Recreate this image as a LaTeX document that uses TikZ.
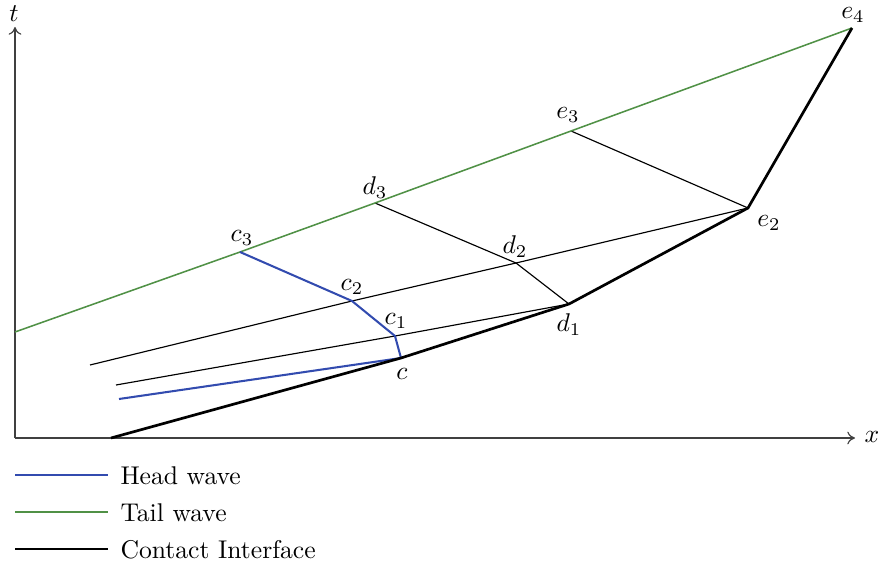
\documentclass[tikz,border=0pt]{standalone}
\usetikzlibrary{arrows.meta}
\definecolor{headblue}{RGB}{50,75,175}
\definecolor{tailgreen}{RGB}{80,145,70}
\begin{document}
\begin{tikzpicture}[x=0.39pt,y=-0.39pt,
  axis/.style={draw=black!75,line width=0.45pt,-{To[length=3pt,width=5pt]}},
  head/.style={draw=headblue,line width=0.8pt},
  tail/.style={draw=tailgreen,line width=0.6pt},
  contact/.style={draw=black,line width=1.05pt},
  charline/.style={draw=black,line width=0.45pt},
  lbl/.style={inner sep=0pt,font=\normalsize}]
\useasboundingbox (0,0) rectangle (878,569);
% points
\coordinate (O) at (15,438);
\coordinate (tend) at (15,27);
\coordinate (xend) at (855,438);
\coordinate (g0) at (15,332);
\coordinate (s0) at (111,438);
\coordinate (c) at (401,358);
\coordinate (c1) at (395,336);
\coordinate (c2) at (352,301);
\coordinate (c3) at (240,252);
\coordinate (d1) at (569,304);
\coordinate (d2) at (516,263);
\coordinate (d3) at (375,203);
\coordinate (e2) at (748,208);
\coordinate (e3) at (571,131);
\coordinate (e4) at (852,28);
\coordinate (h0) at (119,399);
\coordinate (l1) at (116,385);
\coordinate (l2) at (90,365);
% axes
\draw[axis] (O) -- (tend);
\draw[axis] (O) -- (xend);
\node[lbl] (tl) at (14,14) {$t$};
\node[lbl] (xl) at (872,437) {$x$};
% characteristic lines
\draw[charline] (l2) -- (c2) -- (d2) -- (e2);
\draw[charline] (l1) -- (c1) -- (d1);
\draw[charline] (d3) -- (d2) -- (d1);
\draw[charline] (e3) -- (e2);
% tail wave
\draw[tail] (g0) -- (c3) -- (d3) -- (e3) -- (e4);
% head wave
\draw[head,line join=round] (h0) -- (c) -- (c1) -- (c2) -- (c3);
% contact interface
\draw[contact,line join=round] (s0) -- (c) -- (d1) -- (e2) -- (e4);
% labels
\node[lbl] (Lc) at (402,374) {$c$};
\node[lbl] (Lc1) at (396,321) {$c_1$};
\node[lbl] (Lc2) at (352,287) {$c_2$};
\node[lbl] (Lc3) at (242,238) {$c_3$};
\node[lbl] (Ld1) at (569,325) {$d_1$};
\node[lbl] (Ld2) at (515,247) {$d_2$};
\node[lbl] (Ld3) at (375,188) {$d_3$};
\node[lbl] (Le2) at (769,223) {$e_2$};
\node[lbl] (Le3) at (568,115) {$e_3$};
\node[lbl] (Le4) at (853,15) {$e_4$};
% legend
\coordinate (a1) at (15,475); \coordinate (b1) at (108,475);
\coordinate (a2) at (15,512); \coordinate (b2) at (108,512);
\coordinate (a3) at (15,549); \coordinate (b3) at (108,549);
\draw[head] (a1) -- (b1);
\draw[tail] (a2) -- (b2);
\draw[contact] (a3) -- (b3);
\node[lbl,anchor=west] (t1) at (120,476) {Head wave};
\node[lbl,anchor=west] (t2) at (120,513) {Tail wave};
\node[lbl,anchor=west] (t3) at (120,550) {Contact Interface};
\end{tikzpicture}
\end{document}
